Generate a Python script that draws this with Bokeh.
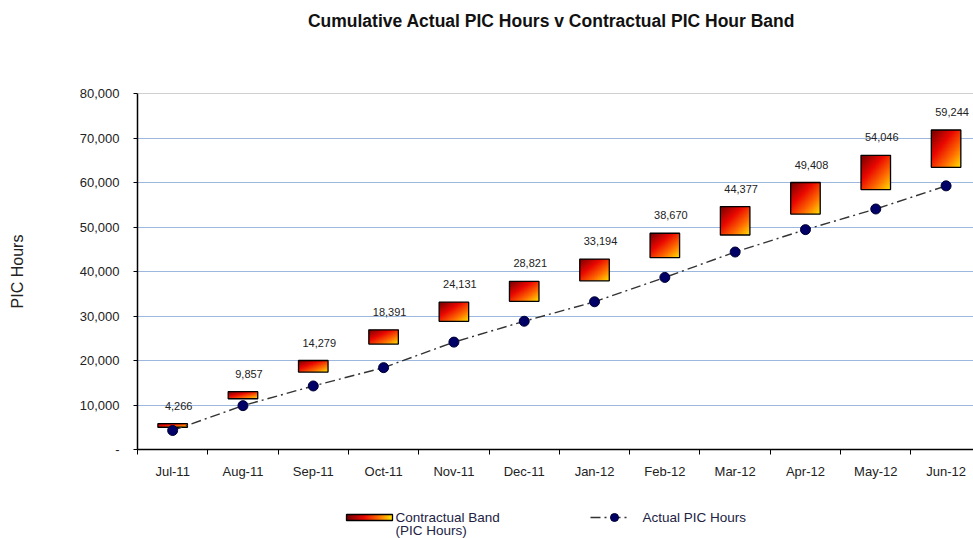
import numpy as np
from bokeh.plotting import figure
from bokeh.layouts import column
from bokeh.models import ColumnDataSource, Range1d, FixedTicker, NumeralTickFormatter, Span
from bokeh.core.properties import value
from bokeh.embed import file_html
from bokeh.resources import INLINE

# ---------------- data ----------------
months = ["Jul-11", "Aug-11", "Sep-11", "Oct-11", "Nov-11", "Dec-11",
          "Jan-12", "Feb-12", "Mar-12", "Apr-12", "May-12", "Jun-12"]
actual_hours = [4266, 9857, 14279, 18391, 24131, 28821,
                33194, 38670, 44377, 49408, 54046, 59244]
band_low = [5000, 11400, 17400, 23700, 28800, 33300,
            37900, 43100, 48200, 52900, 58400, 63400]
band_high = [5800, 13000, 20000, 26900, 33100, 37800,
             42800, 48600, 54600, 60000, 66100, 71800]
y_ticks = [0, 10000, 20000, 30000, 40000, 50000, 60000, 70000, 80000]

title_text = "Cumulative Actual PIC Hours v Contractual PIC Hour Band"
y_label = "PIC Hours"
legend_band = ["Contractual Band", "(PIC Hours)"]
legend_actual = "Actual PIC Hours"

FONT = "Liberation Sans"
BAND_W = 0.42
W = 973
LEFT = 137

# ---------------- gradient helper ----------------
stops = [(0.0, (115, 0, 0)), (0.38, (235, 8, 0)), (0.7, (255, 110, 0)), (1.0, (255, 228, 0))]


def grad_color(t):
    for (t0, c0), (t1, c1) in zip(stops[:-1], stops[1:]):
        if t <= t1:
            f = (t - t0) / (t1 - t0)
            return [c0[k] + (c1[k] - c0[k]) * f for k in range(3)]
    return list(stops[-1][1])


def make_img(n, m, diagonal=True):
    img = np.empty((n, m), dtype=np.uint32)
    view = img.view(dtype=np.uint8).reshape((n, m, 4))
    for r in range(n):
        v = r / (n - 1)  # 0 bottom, 1 top
        for c in range(m):
            u = c / (m - 1)
            t = (u + (1 - v)) / 2 if diagonal else u
            col = grad_color(t)
            view[r, c, 0] = int(col[0])
            view[r, c, 1] = int(col[1])
            view[r, c, 2] = int(col[2])
            view[r, c, 3] = 255
    return img


def strip(height):
    # frame spans the same columns as the main plot; x data units == page pixels
    f = figure(width=W, height=height, output_backend="svg", toolbar_location=None,
               x_range=Range1d(LEFT, W), y_range=Range1d(height, 0),
               min_border_left=LEFT, min_border_right=0, min_border_top=0, min_border_bottom=0,
               x_axis_location=None, y_axis_location=None)
    f.outline_line_color = None
    f.xgrid.visible = False
    f.ygrid.visible = False
    return f


band_img = make_img(48, 48)

idx = list(range(len(months)))
src = ColumnDataSource(dict(
    x=idx,
    left=[i - BAND_W / 2 for i in idx],
    low=band_low,
    high=band_high,
    h=[hi - lo for lo, hi in zip(band_low, band_high)],
    actual=actual_hours,
    lab=[f"{v:,}" for v in actual_hours],
    img=[band_img] * len(idx),
))

# ---------------- title strip ----------------
TH = 40
tfig = strip(TH)
tfig.text(x=[551], y=[20], text=[title_text], text_align="center", text_baseline="middle",
          text_font=value(FONT), text_font_size="17.5px", text_font_style="bold",
          text_color="#111111")

# ---------------- main figure ----------------
p = figure(width=W, height=449, output_backend="svg", toolbar_location=None,
           x_range=Range1d(-0.5, 11.39), y_range=Range1d(y_ticks[0], y_ticks[-1]),
           min_border_left=LEFT, min_border_right=0, min_border_top=93 - TH, min_border_bottom=40)
p.background_fill_color = "white"
p.border_fill_color = "white"
p.outline_line_color = None

# grid
p.xgrid.visible = False
p.ygrid.grid_line_color = "#9db8df"
p.ygrid.grid_line_width = 1
p.ygrid.ticker = FixedTicker(ticks=y_ticks)
p.add_layout(Span(location=y_ticks[-1], dimension="width", line_color="#a0a0a0", line_width=1))

# y axis
p.yaxis.ticker = FixedTicker(ticks=y_ticks)
p.yaxis.formatter = NumeralTickFormatter(format="0,0")
p.yaxis.major_label_overrides = {0: "-"}
p.yaxis.axis_line_color = "black"
p.yaxis.axis_line_width = 1.5
p.yaxis.major_tick_line_color = "black"
p.yaxis.major_tick_out = 4
p.yaxis.major_tick_in = 0
p.yaxis.minor_tick_line_color = None
p.yaxis.major_label_standoff = 14
p.yaxis.major_label_text_font = FONT
p.yaxis.major_label_text_font_size = "13px"
p.yaxis.major_label_text_color = "#222222"
p.yaxis.axis_label = y_label
p.yaxis.axis_label_text_font = FONT
p.yaxis.axis_label_text_font_size = "16px"
p.yaxis.axis_label_text_font_style = "normal"
p.yaxis.axis_label_text_color = "#222222"
p.yaxis.axis_label_standoff = 51

# x axis (labels at category centres, tick marks at category boundaries)
p.xaxis.ticker = FixedTicker(ticks=idx, minor_ticks=[i - 0.5 for i in idx] + [idx[-1] + 0.5])
p.xaxis.major_label_overrides = {i: m for i, m in zip(idx, months)}
p.xaxis.axis_line_color = "black"
p.xaxis.axis_line_width = 1.5
p.xaxis.major_tick_line_color = None
p.xaxis.major_tick_out = 0
p.xaxis.major_tick_in = 0
p.xaxis.minor_tick_line_color = "black"
p.xaxis.minor_tick_out = 5
p.xaxis.minor_tick_in = 0
p.xaxis.major_label_standoff = 9
p.xaxis.major_label_text_font = FONT
p.xaxis.major_label_text_font_size = "13px"
p.xaxis.major_label_text_color = "#222222"

# bands (gradient filled)
p.image_rgba(image="img", x="left", y="low", dw=BAND_W, dh="h", source=src)
p.vbar(x="x", width=BAND_W, bottom="low", top="high", source=src,
       fill_color=None, line_color="black", line_width=1.3)

# actual line + markers
p.line(x="x", y="actual", source=src, line_color="#333333", line_width=1.4,
       line_dash="10 4 2 4")
p.scatter(x="x", y="actual", source=src, marker="circle", size=10,
          fill_color="#000066", line_color="#000033")

# value labels above bands
p.text(x="x", y="high", text="lab", source=src, x_offset=6, y_offset=-18,
       text_align="center", text_baseline="middle",
       text_font=value(FONT), text_font_size="11px", text_color="#222222")

# ---------------- legend strip ----------------
leg = strip(49)
leg_img = make_img(8, 64, diagonal=False)
leg.image_rgba(image=[leg_img], x=[346], y=[25], dw=[46], dh=[6])
leg.quad(left=[346], right=[392], top=[25], bottom=[31], fill_color=None,
         line_color="black", line_width=1.3)
leg.text(x=[395, 395], y=[27.5, 41], text=legend_band, text_align="left",
         text_baseline="middle", text_font=value(FONT), text_font_size="13.5px",
         text_color="#222244")

leg.line(x=[590, 628], y=[28, 28], line_color="#333333", line_width=1.4,
         line_dash="10 4 2 4")
leg.scatter(x=[614], y=[28], marker="circle", size=8, fill_color="#000066",
            line_color="#000033")
leg.text(x=[642], y=[27.5], text=[legend_actual], text_align="left",
         text_baseline="middle", text_font=value(FONT), text_font_size="13.5px",
         text_color="#222244")

layout = column(tfig, p, leg, spacing=0)
open("out.html", "w").write(file_html(layout, INLINE))
